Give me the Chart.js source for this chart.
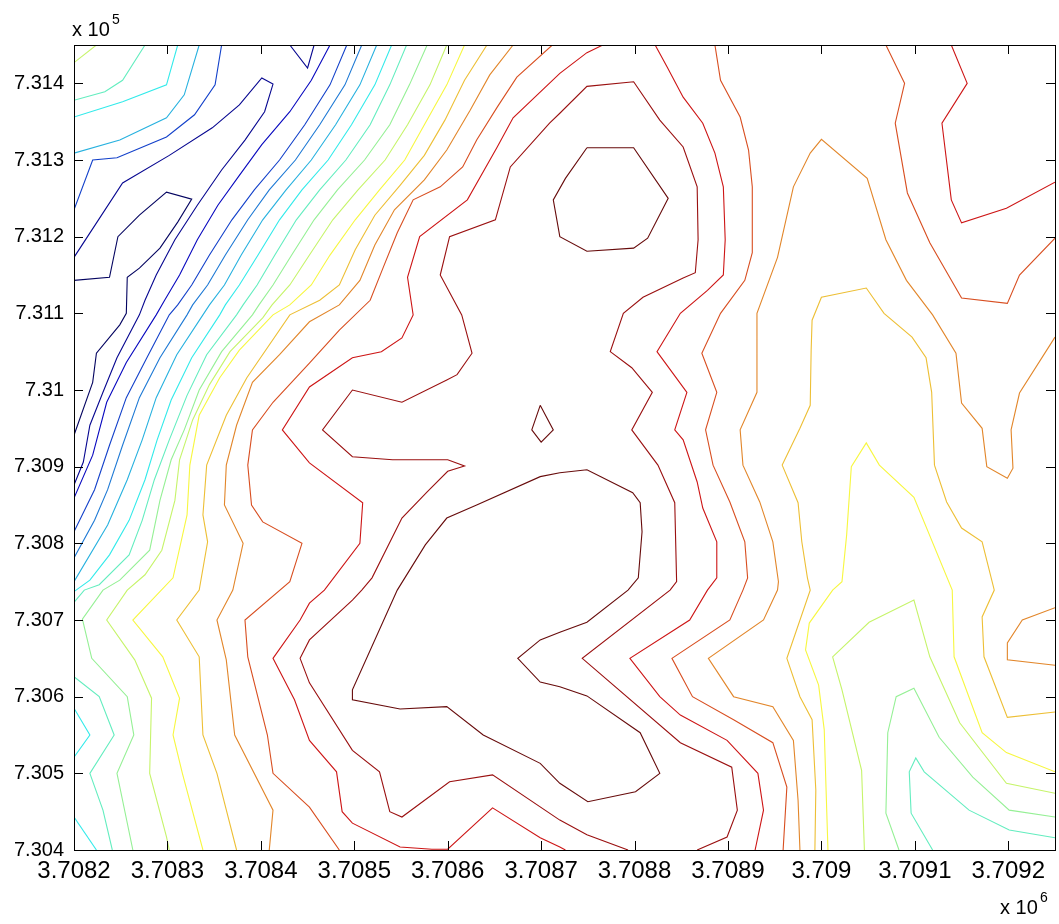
<!DOCTYPE html>
<html><head><meta charset="utf-8">
<script src="https://cdn.jsdelivr.net/npm/chart.js@4.4.1/dist/chart.umd.min.js"></script>
<style>html,body{margin:0;padding:0;background:#fff;overflow:hidden}canvas{display:block}</style>
</head><body>
<canvas id="c" width="1059" height="924"></canvas>
<script>
// Axis origin (data units, metres); contour vertices below are offsets [dx,dy,...] from it
const X0 = 3708200, Y0 = 730400;
const X_SPAN = 1050, Y_SPAN = 1050;
const xTickLabels = ['3.7082','3.7083','3.7084','3.7085','3.7086','3.7087','3.7088','3.7089','3.709','3.7091','3.7092'];
const yTickLabels = ['7.304','7.305','7.306','7.307','7.308','7.309','7.31','7.311','7.312','7.313','7.314'];
const xExponent = '6', yExponent = '5';
const levelCount = 17; // contour levels 0..16 (jet colormap)

// level 16 (innermost maxima)
const lv16_loopNorth = [549,916, 599,916, 636,850, 614,798, 599,785, 549,781, 520,800, 513,848, 526,876, 549,916];
const lv16_diamond = [499,580, 513,548, 500,532, 490,548, 499,580];
const lv16_blobSouth = [520,492, 549,496, 598,466, 606,453, 608,415, 604,355, 593,339, 549,297, 520,284, 499,274, 475,250, 499,219, 520,213, 549,201, 606,153, 627,100, 601,76, 550,63, 520,87, 499,113, 438,150, 399,187, 349,184, 298,196, 298,209, 346,339, 376,398, 399,433, 431,450, 499,487, 520,492];
// level 15
const lv15_plateau = [593,0, 549,20, 520,39, 448,98, 402,89, 351,43, 338,50, 327,102, 298,130, 252,218, 242,250, 252,274, 298,326, 308,339, 319,355, 351,433, 378,467, 400,494, 418,501, 400,509, 341,509, 298,513, 266,548, 298,600, 351,584, 399,613, 410,620, 426,648, 415,698, 392,750, 402,800, 451,822, 467,891, 509,948, 520,961, 549,996, 599,1002, 627,952, 652,917, 667,865, 668,796, 665,753, 652,746, 609,721, 588,700, 574,650, 597,629, 619,597, 597,548, 625,502, 643,453, 645,350, 638,339, 544,250, 649,140, 704,108, 710,52, 699,17, 667,0];
// level 14
const lv14_west = [566,1050, 549,1040, 520,1013, 470,955, 453,917, 421,848, 370,800, 357,747, 363,698, 351,668, 329,650, 298,642, 252,604, 223,548, 252,505, 309,453, 306,400, 268,339, 252,322, 242,300, 213,250, 236,196, 252,143, 281,102, 287,50, 298,35, 349,4, 383,1, 400,1, 448,55, 499,16, 520,4, 526,0];
const lv14_east = [622,1050, 635,1021, 652,982, 673,948, 686,909, 695,865, 697,796, 695,750, 678,730, 649,700, 624,650, 656,597, 643,548, 652,535, 667,480, 673,446, 688,402, 688,355, 678,339, 659,300, 595,250, 627,200, 649,176, 699,143, 732,100, 738,52, 729,0];
const lv14_northEast = [939,1050, 956,1000, 929,948, 939,848, 950,818, 998,837, 1050,871];
// level 13
const lv13_east = [686,1050, 692,1004, 713,956, 722,913, 726,865, 726,779, 718,743, 692,700, 672,648, 688,597, 676,548, 684,502, 702,454, 718,402, 721,355, 716,339, 702,300, 640,250, 662,200, 706,170, 748,140, 763,82, 759,0];
const lv13_northEast = [869,1050, 889,1000, 879,948, 892,857, 916,792, 950,720, 999,713, 1012,750, 1050,798];
const lv13_west = [512,1050, 474,1008, 453,969, 431,926, 416,891, 392,865, 363,848, 346,805, 331,760, 317,717, 284,678, 252,635, 213,584, 191,548, 186,502, 190,450, 202,428, 244,400, 231,350, 183,300, 186,252, 207,150, 213,100, 252,56, 284,0];
// level 12
const lv12_east = [1050,669, 1012,596, 1003,548, 1005,498, 999,485, 977,500, 972,550, 950,583, 944,648, 919,698, 891,743, 869,796, 849,876, 800,927, 788,909, 770,865, 753,773, 731,700, 731,597, 713,548, 716,502, 734,454, 748,402, 754,350, 753,339, 738,300, 679,250, 706,200, 748,187, 770,143, 775,65, 777,0];
const lv12_southEast = [1050,316, 1015,300, 999,270, 999,248, 1050,241];
const lv12_west = [470,1050, 445,1011, 424,965, 399,913, 375,874, 343,835, 322,789, 306,743, 284,711, 252,689, 220,646, 191,610, 174,554, 163,502, 161,450, 181,400, 170,339, 153,300, 163,248, 172,150, 213,52, 209,0];
// level 11
const lv11_east = [1050,180, 999,173, 974,252, 972,304, 985,339, 972,402, 950,420, 934,454, 921,502, 918,597, 912,642, 897,669, 867,700, 848,733, 800,721, 790,691, 789,652, 788,580, 777,550, 758,502, 775,453, 779,402, 785,355, 788,339, 763,250, 777,200, 790,170, 794,78, 793,0];
const lv11_west = [442,1050, 418,1004, 397,952, 375,906, 349,867, 322,828, 301,783, 284,737, 263,717, 231,698, 185,616, 163,567, 142,502, 138,437, 143,402, 134,339, 110,300, 134,252, 138,150, 153,100, 174,0];
// level 10
const lv10_east = [1050,102, 998,127, 972,153, 942,252, 940,339, 899,460, 862,502, 848,531, 832,500, 827,411, 822,350, 812,339, 787,296, 783,261, 797,215, 803,157, 805,78, 807,0];
const lv10_west = [418,1050, 399,998, 375,946, 354,900, 327,861, 301,822, 274,776, 254,737, 231,711, 213,698, 177,652, 156,616, 134,567, 124,502, 121,437, 106,355, 63,300, 95,252, 113,198, 106,150, 116,100, 138,0];
// level 9
const lv9_east = [1050,74, 998,87, 948,166, 916,252, 899,326, 851,297, 812,252, 822,209, 843,104, 846,0];
const lv9_west = [399,1050, 381,998, 357,946, 333,900, 304,861, 277,822, 252,776, 231,737, 212,711, 202,694, 167,650, 145,607, 127,561, 113,509, 108,456, 94,391, 76,359, 57,339, 35,300, 65,248, 83,198, 81,100, 99,17, 102,0];
const lv9_corner = [0,1027, 24,1050];
// level 8
const lv8_east = [883,0, 869,48, 871,153, 880,200, 899,211, 926,147, 962,95, 1001,52, 1050,43];
const lv8_west = [378,1050, 359,998, 338,946, 311,900, 282,861, 257,822, 233,776, 213,737, 198,711, 191,698, 158,650, 134,600, 118,548, 104,509, 92,456, 81,391, 49,352, 31,339, 9,301, 19,250, 57,200, 64,150, 46,100, 63,0];
// level 7
const lv7_east = [919,0, 896,48, 894,102, 901,120, 910,102, 958,52, 1001,26, 1050,16];
const lv7_west = [356,1050, 338,998, 317,946, 291,900, 263,861, 238,822, 215,776, 196,737, 181,711, 174,698, 142,646, 121,593, 102,535, 86,483, 73,430, 59,385, 27,346, 11,339, 0,323];
const lv7_southWest = [0,226, 27,200, 43,150, 17,100, 31,52, 41,0];
const lv7_corner = [0,978, 33,989, 52,1004, 76,1050];
// level 6
const lv6_west = [340,1050, 322,998, 297,946, 272,900, 244,861, 220,822, 197,776, 177,737, 162,711, 156,698, 126,642, 104,587, 89,535, 76,483, 59,430, 38,385, 17,352, 0,337];
const lv6_edgeA = [0,185, 17,150, 0,121];
const lv6_edgeB = [0,43, 24,0];
const lv6_corner = [0,956, 52,976, 99,998, 111,1050];
// level 5
const lv5_west = [324,1050, 306,998, 280,946, 254,900, 227,861, 202,822, 179,776, 161,737, 145,711, 138,698, 110,646, 88,590, 73,535, 57,483, 36,424, 0,350];
const lv5_corner = [0,909, 49,926, 99,955, 118,985, 134,1050];
// level 4
const lv4_west = [308,1050, 290,998, 263,946, 237,900, 209,861, 186,822, 162,776, 143,737, 127,711, 121,698, 92,642, 70,590, 52,528, 36,470, 22,430, 0,381];
// level 3
const lv3_west = [292,1050, 274,998, 247,946, 220,900, 193,861, 169,822, 145,776, 126,737, 111,711, 102,698, 78,642, 56,590, 38,528, 22,470, 0,415];
const lv3_corner = [0,835, 20,900, 46,903, 99,930, 129,959, 151,998, 158,1050];
// level 2
const lv2_west = [274,1050, 254,1004, 231,963, 201,920, 177,880, 154,841, 132,796, 113,750, 97,717, 88,698, 56,636, 35,584, 20,515, 0,459];
// level 1
const lv1_tongue = [0,773, 52,870, 102,906, 148,942, 177,972, 201,1007, 213,999, 204,963, 183,926, 158,887, 132,841, 108,796, 88,750, 76,717, 70,698, 46,642, 31,597, 17,554, 10,506, 0,476];
const lv1_notch = [231,1050, 250,1020, 257,1050];
// level 0 (valley minimum)
const lv0_tongue = [0,743, 38,747, 47,800, 70,828, 99,858, 126,849, 111,819, 92,785, 70,759, 57,747, 56,700, 49,685, 24,648, 20,610, 0,541];

const contourLines = [
  [0, lv0_tongue],
  [1, lv1_tongue], [1, lv1_notch],
  [2, lv2_west],
  [3, lv3_west], [3, lv3_corner],
  [4, lv4_west],
  [5, lv5_west], [5, lv5_corner],
  [6, lv6_west], [6, lv6_edgeA], [6, lv6_edgeB], [6, lv6_corner],
  [7, lv7_east], [7, lv7_west], [7, lv7_southWest], [7, lv7_corner],
  [8, lv8_east], [8, lv8_west],
  [9, lv9_east], [9, lv9_west], [9, lv9_corner],
  [10, lv10_east], [10, lv10_west],
  [11, lv11_east], [11, lv11_west],
  [12, lv12_east], [12, lv12_southEast], [12, lv12_west],
  [13, lv13_east], [13, lv13_northEast], [13, lv13_west],
  [14, lv14_west], [14, lv14_east], [14, lv14_northEast],
  [15, lv15_plateau],
  [16, lv16_loopNorth], [16, lv16_diamond], [16, lv16_blobSouth]
];

// jet colormap, slightly desaturated to match the thin, soft lines of the reference
function jet(t){
  const f = v => Math.max(0, Math.min(1, v));
  let r = f(1.5-Math.abs(4*t-3)), g = f(1.5-Math.abs(4*t-2)), b = f(1.5-Math.abs(4*t-1));
  const L = 0.3*r + 0.59*g + 0.11*b, k = 0.72;
  r = L + (r-L)*k; g = L + (g-L)*k; b = L + (b-L)*k;
  const c = v => Math.round(255*f(v));
  return 'rgb(' + c(r) + ',' + c(g) + ',' + c(b) + ')';
}

const datasets = contourLines.map(([lv, arr]) => {
  const pts = [];
  for (let i = 0; i < arr.length; i += 2) pts.push({x: X0 + arr[i], y: Y0 + arr[i+1]});
  return {data: pts, showLine: true, borderColor: jet(lv/(levelCount-1)), borderWidth: 1.1,
          pointRadius: 0, pointHoverRadius: 0, fill: false, tension: 0};
});

const FONT = '"Liberation Sans", Arial, Helvetica, sans-serif';

const framePlugin = {
  id: 'frame',
  afterDraw(chart){
    const {ctx, chartArea: a, scales: {x, y}} = chart;
    ctx.save();
    ctx.strokeStyle = '#000'; ctx.lineWidth = 1;
    ctx.strokeRect(Math.round(a.left)+0.5, Math.round(a.top)+0.5, Math.round(a.right-a.left), Math.round(a.bottom-a.top));
    const L = 9;
    ctx.beginPath();
    x.ticks.forEach(t => {
      const px = Math.round(x.getPixelForValue(t.value)) + 0.5;
      ctx.moveTo(px, a.bottom); ctx.lineTo(px, a.bottom - L);
      ctx.moveTo(px, a.top); ctx.lineTo(px, a.top + L);
    });
    y.ticks.forEach(t => {
      const py = Math.round(y.getPixelForValue(t.value)) + 0.5;
      ctx.moveTo(a.left, py); ctx.lineTo(a.left + L, py);
      ctx.moveTo(a.right, py); ctx.lineTo(a.right - L, py);
    });
    ctx.stroke();
    ctx.fillStyle = '#000';
    ctx.textBaseline = 'alphabetic'; ctx.textAlign = 'left';
    ctx.font = '20px ' + FONT;
    ctx.fillText('x 10', 72, 36);
    ctx.fillText('x 10', 1000, 914);
    ctx.font = '14px ' + FONT;
    ctx.fillText(yExponent, 112, 24);
    ctx.fillText(xExponent, 1040, 902);
    ctx.restore();
  }
};

new Chart(document.getElementById('c'), {
  type: 'scatter',
  data: {datasets},
  options: {
    responsive: false, animation: false, devicePixelRatio: 1,
    layout: {padding: {top: 45, right: 4, left: 0, bottom: 0}},
    plugins: {legend: {display: false}, tooltip: {enabled: false}},
    events: [],
    scales: {
      x: {
        type: 'linear', min: X0, max: X0 + X_SPAN,
        afterBuildTicks: s => { s.ticks = xTickLabels.map(l => ({value: Math.round(parseFloat(l)*1e6)})); },
        afterFit: s => { s.height = 74; },
        grid: {display: false, drawTicks: false}, border: {display: false},
        ticks: {autoSkip: false, maxRotation: 0, minRotation: 0, padding: 7, color: '#000',
                font: {family: FONT, size: 24}, callback: (v, i) => xTickLabels[i]}
      },
      y: {
        type: 'linear', min: Y0, max: Y0 + Y_SPAN,
        afterBuildTicks: s => { s.ticks = yTickLabels.map(l => ({value: Math.round(parseFloat(l)*1e5)})); },
        afterFit: s => { s.width = 74; },
        grid: {display: false, drawTicks: false}, border: {display: false},
        ticks: {autoSkip: false, padding: 10, color: '#000',
                font: {family: FONT, size: 20}, callback: (v, i) => yTickLabels[i]}
      }
    }
  },
  plugins: [framePlugin]
});
</script>
</body></html>
